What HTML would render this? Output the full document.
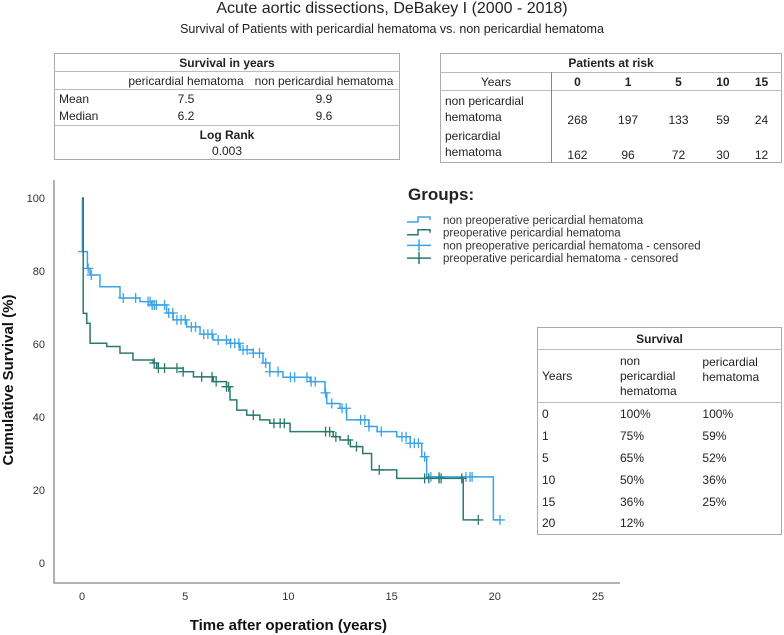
<!DOCTYPE html>
<html><head><meta charset="utf-8"><style>
body{margin:0;width:784px;height:635px;background:#fff;font-family:"Liberation Sans",sans-serif;position:relative;overflow:hidden;color:#222}
.t{position:absolute;white-space:nowrap}
table{border-collapse:collapse;position:absolute;font-size:12px;background:#fff}
td{padding:0 4px;border:none}
</style></head><body>
<div class="t" style="left:0;width:784px;text-align:center;top:0;font-size:16px">Acute aortic dissections, DeBakey I (2000 - 2018)</div>
<div class="t" style="left:0;width:784px;text-align:center;top:22px;font-size:12.5px">Survival of Patients with pericardial hematoma vs. non pericardial hematoma</div>

<table style="left:54px;top:53px;width:346px;border:1px solid #aaa">
<tr style="height:18px;border-bottom:1px solid #bbb"><td colspan="3" style="text-align:center;font-weight:bold">Survival in years</td></tr>
<tr style="height:18px;border-bottom:1px solid #bbb"><td style="width:60px"></td><td style="text-align:center">pericardial hematoma</td><td style="text-align:center">non pericardial hematoma</td></tr>
<tr style="height:18px"><td>Mean</td><td style="text-align:center">7.5</td><td style="text-align:center">9.9</td></tr>
<tr style="height:18px;border-bottom:1px solid #bbb"><td>Median</td><td style="text-align:center">6.2</td><td style="text-align:center">9.6</td></tr>
<tr style="height:34px"><td colspan="3" style="text-align:center;line-height:16px"><b>Log Rank</b><br>0.003</td></tr>
</table>

<table style="left:440px;top:53px;width:342px;border:1px solid #aaa">
<tr style="height:19px;border-bottom:1px solid #bbb"><td colspan="6" style="text-align:center;font-weight:bold">Patients at risk</td></tr>
<tr style="height:18px;border-bottom:1px solid #bbb"><td style="text-align:center;width:102px;border-right:1px solid #888">Years</td><td style="text-align:center;font-weight:bold">0</td><td style="text-align:center;font-weight:bold">1</td><td style="text-align:center;font-weight:bold">5</td><td style="text-align:center;font-weight:bold">10</td><td style="text-align:center;font-weight:bold">15</td></tr>
<tr style="height:36px"><td style="border-right:1px solid #888;line-height:16px">non pericardial<br>hematoma</td><td style="text-align:center;vertical-align:bottom">268</td><td style="text-align:center;vertical-align:bottom">197</td><td style="text-align:center;vertical-align:bottom">133</td><td style="text-align:center;vertical-align:bottom">59</td><td style="text-align:center;vertical-align:bottom">24</td></tr>
<tr style="height:36px"><td style="border-right:1px solid #888;line-height:16px">pericardial<br>hematoma</td><td style="text-align:center;vertical-align:bottom">162</td><td style="text-align:center;vertical-align:bottom">96</td><td style="text-align:center;vertical-align:bottom">72</td><td style="text-align:center;vertical-align:bottom">30</td><td style="text-align:center;vertical-align:bottom">12</td></tr>
</table>

<svg id="chart" width="784" height="635" style="position:absolute;left:0;top:0" xmlns="http://www.w3.org/2000/svg"></svg>

<table style="left:537px;top:327px;width:245px;border:1px solid #aaa">
<tr style="height:22px;border-bottom:1px solid #bbb"><td colspan="3" style="text-align:center;font-weight:bold">Survival</td></tr>
<tr style="height:53px;border-bottom:1px solid #bbb;line-height:15px"><td style="width:70px">Years</td><td>non<br>pericardial<br>hematoma</td><td style="vertical-align:top;padding-top:5px">pericardial<br>hematoma</td></tr>
<tr style="height:22px"><td>0</td><td>100%</td><td>100%</td></tr>
<tr style="height:22px"><td>1</td><td>75%</td><td>59%</td></tr>
<tr style="height:22px"><td>5</td><td>65%</td><td>52%</td></tr>
<tr style="height:22px"><td>10</td><td>50%</td><td>36%</td></tr>
<tr style="height:22px"><td>15</td><td>36%</td><td>25%</td></tr>
<tr style="height:22px"><td>20</td><td>12%</td><td></td></tr>
</table>

<script>
const xTicks=[0,5,10,15,20,25];
const yTicks=[0,20,40,60,80,100];
const blueTimes=[0,0.02,0.26,0.39,0.87,1.84,2.81,3.38,4.1,4.42,5.07,5.72,6.35,7.17,7.66,8.29,8.77,9.1,9.74,11.05,11.77,11.86,12.5,12.82,13.9,14.3,15.25,15.9,16.46,16.7,19.93];
const blueSurv=[100,85.3,80.7,78.9,75.7,72.6,71.6,70.7,68.5,66.6,64.7,62.7,61.1,60.2,58.4,57.5,54.8,52.4,50.9,49.7,46.6,43.7,42.4,39.2,37.4,36,34.6,32.8,29.1,23.6,11.8];
const blueCens=[0.05,0.3,0.45,2.0,2.6,3.2,3.3,3.4,3.5,3.6,4.0,4.2,4.4,4.6,4.8,5.0,5.3,5.5,5.9,6.1,6.3,6.6,7.0,7.2,7.4,7.6,7.8,8.0,8.3,8.6,8.9,9.1,9.5,10.1,10.3,10.9,11.1,11.3,11.8,12.1,12.6,12.8,13.5,13.7,13.9,14.5,15.5,15.7,15.9,16.1,16.3,16.6,16.9,17.3,18.6,18.8,18.9,20.25];
const greenTimes=[0,0.06,0.23,0.39,1.2,1.84,2.47,3.45,3.62,4.9,5.4,6.36,7.0,7.17,7.5,7.98,8.62,9.1,10.08,12.17,12.5,13.0,13.6,14.03,15.25,18.47];
const greenSurv=[100,68.4,65.7,60.2,59.3,57.5,55.6,54.8,53.4,52.4,51,49.7,48.3,44.7,41.9,40.5,39.2,38.3,36,34.6,33.7,31.9,30,25.5,23.2,11.8];
const greenCens=[3.5,3.7,4.0,4.6,4.9,5.8,6.3,6.5,7.0,7.1,8.3,9.3,9.6,9.8,11.8,12.0,12.3,12.9,13.3,14.4,16.6,16.8,17.3,17.4,18.4,19.2];

const svg=document.getElementById('chart');
const NS='http://www.w3.org/2000/svg';
const X=t=>82+t*20.64;
const Y=s=>563-s*3.65;
function mk(tag,attrs){const e=document.createElementNS(NS,tag);for(const k in attrs)e.setAttribute(k,attrs[k]);svg.appendChild(e);return e;}
function survAt(times,surv,t){let s=surv[0];for(let i=0;i<times.length;i++){if(times[i]<=t)s=surv[i];}return s;}

let ax=mk('path',{d:'M54 180 V583 H620',fill:'none',stroke:'#999','stroke-width':1.5});


xTicks.forEach(v=>{const t=mk('text',{x:X(v),y:600,'text-anchor':'middle','font-size':11,fill:'#333'});t.textContent=v;

});
yTicks.forEach(v=>{const t=mk('text',{x:45,y:Y(v)+4,'text-anchor':'end','font-size':11,fill:'#333'});t.textContent=v;

});
let xt=mk('text',{x:X(10),y:630,'text-anchor':'middle','font-size':15,'font-weight':'bold',fill:'#111'});xt.textContent='Time after operation (years)';


let yt=mk('text',{x:0,y:0,'text-anchor':'middle','font-size':15,'font-weight':'bold',fill:'#111',transform:'translate(13,380) rotate(-90)'});yt.textContent='Cumulative Survival (%)';



function curve(times,surv,cens,color,name){
  let d='M'+X(times[0])+' '+Y(surv[0]);
  for(let i=1;i<times.length;i++){d+=' H'+X(times[i])+' V'+Y(surv[i]);}
  const maxC=Math.max(...cens);
  d+=' H'+X(maxC);
  const p=mk('path',{d:d,fill:'none',stroke:color,'stroke-width':1.5});
  
  
  cens.forEach(t=>{const s=survAt(times,surv,t);const cx=X(t),cy=Y(s);
    const c=mk('path',{d:`M${cx-5} ${cy} H${cx+5} M${cx} ${cy-5} V${cy+5}`,stroke:color,'stroke-width':1.3});
    
    });
}
curve(blueTimes,blueSurv,blueCens,'#3ba3e8','non-pericardial');
curve(greenTimes,greenSurv,greenCens,'#2a7a6e','pericardial');

let lg=mk('text',{x:408,y:200,'font-size':17,'font-weight':'bold',fill:'#222'});lg.textContent='Groups:';


const legItems=[['non preoperative pericardial hematoma','#3ba3e8','step'],['preoperative pericardial hematoma','#2a7a6e','step'],['non preoperative pericardial hematoma - censored','#3ba3e8','plus'],['preoperative pericardial hematoma - censored','#2a7a6e','plus']];
legItems.forEach((it,i)=>{const y=220+i*12.7;
  const sym=it[2]==='step'?mk('path',{d:`M407 ${y+2} H418 V${y-3} H430 V${y}`,fill:'none',stroke:it[1],'stroke-width':1.5}):mk('path',{d:`M407 ${y} H431 M419 ${y-6} V${y+6}`,stroke:it[1],'stroke-width':1.5});
  
  
  const t=mk('text',{x:443,y:y+4,'font-size':11.5,fill:'#333'});t.textContent=it[0];
  
  
});
</script>
</body></html>
